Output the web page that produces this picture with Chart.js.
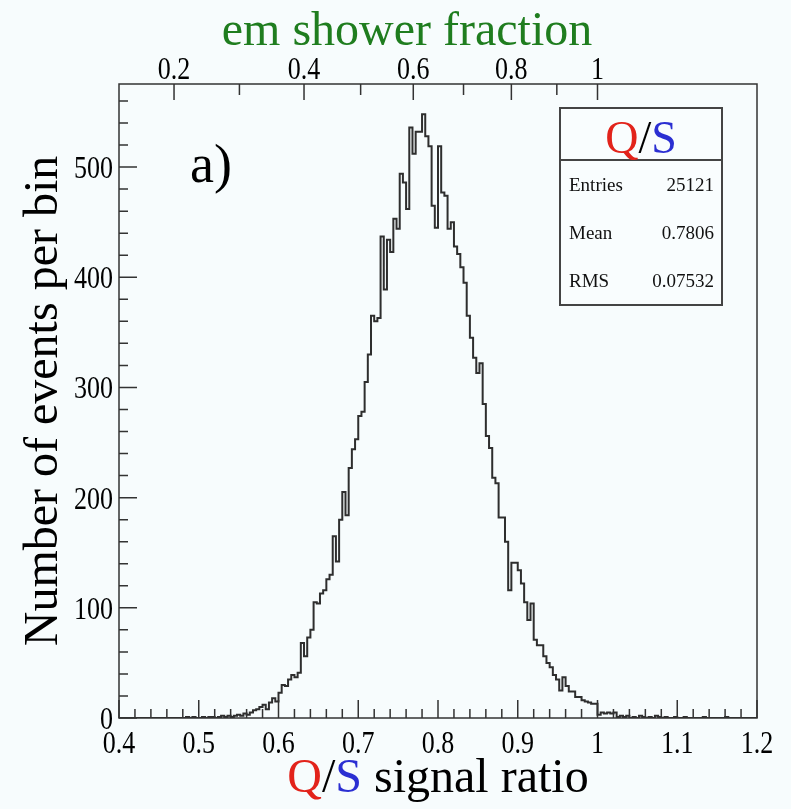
<!DOCTYPE html>
<html lang="en">
<head>
    <meta charset="UTF-8">
    <title>Q/S signal ratio</title>
    <script src="https://cdn.jsdelivr.net/npm/chart.js@4.4.1/dist/chart.umd.min.js"></script>
    <style>
        html, body {
            margin: 0;
            padding: 0;
            background: #f7fcfd;
        }
        .wrap {
            width: 791px;
            height: 809px;
        }
    </style>
</head>
<body>
    <div class="wrap"><canvas id="qsChart"></canvas></div>

    <script>
        // histogram of Q/S, 200 bins from 0.4 to 1.2
        const binLow = 0.4;
        const binWidth = 0.004;
        const counts = [
            0, 0, 0, 0, 0, 0, 0, 0, 0, 0,
            0, 0, 0, 0, 0, 0, 0, 0, 0, 0,
            0, 1, 0, 1, 0, 0, 1, 0, 1, 1,
            0, 1, 2, 1, 2, 1, 2, 3, 2, 4,
            3, 5, 7, 8, 10, 12, 8, 14, 18, 15,
            23, 30, 29, 35, 39, 37, 41, 68, 56, 73,
            80, 105, 104, 113, 116, 126, 130, 165, 142, 180,
            205, 184, 227, 244, 253, 274, 278, 305, 330, 365,
            360, 363, 437, 389, 434, 423, 453, 444, 494, 486,
            462, 536, 512, 532, 532, 548, 528, 519, 465, 445,
            519, 477, 474, 444, 450, 428, 421, 409, 395, 365,
            345, 327, 313, 322, 285, 256, 245, 218, 213, 182,
            182, 160, 116, 141, 141, 134, 122, 105, 89, 104,
            71, 66, 66, 56, 50, 46, 39, 35, 25, 37,
            29, 24, 24, 19, 19, 16, 15, 14, 13, 13,
            3, 5, 4, 5, 4, 5, 1, 2, 1, 2,
            0, 1, 0, 2, 1, 0, 1, 0, 2, 1,
            0, 1, 0, 0, 1, 0, 0, 1, 0, 0,
            0, 0, 0, 1, 0, 0, 0, 0, 0, 0,
            1, 0, 0, 0, 0, 0, 0, 0, 0, 0
        ];
        const yMax = 575.4;   // ROOT: 1.05 * highest bin

        // top axis: em shower fraction, placed on the Q/S scale
        const emTickPos = [0.469, 0.632, 0.769, 0.892, 1.0];
        const emTickLabels = ['0.2', '0.4', '0.6', '0.8', '1'];
        const emMinorPos = [0.551, 0.703, 0.832, 0.949];

        const statNames = ['Entries', 'Mean', 'RMS'];
        const statValues = ['25121', '0.7806', '0.07532'];

        const serif = '"Liberation Serif", "Times New Roman", serif';
        const RED = '#e2231b';
        const BLUE = '#2b2fd2';
        const GREEN = '#1f7d1f';
        const LABEL_FONT = '26px ' + serif;
        const LABEL_STRETCH = 1.25;   // tick numbers look tall and narrow

        // bin low edges, plus one point to close the last bin
        const histPoints = counts.map((c, i) => ({ x: binLow + i * binWidth, y: c }));
        histPoints.push({ x: binLow + counts.length * binWidth, y: counts[counts.length - 1] });

        function fmt(v) {
            return String(Math.round(v * 10) / 10);
        }

        // draws coloured pieces of text one after another
        function drawParts(ctx, parts, x, y, align) {
            let total = 0;
            parts.forEach(p => total += ctx.measureText(p[0]).width);
            let cx = align === 'center' ? x - total / 2 : x;
            ctx.textAlign = 'left';
            parts.forEach(p => {
                ctx.fillStyle = p[1];
                ctx.fillText(p[0], cx, y);
                cx += ctx.measureText(p[0]).width;
            });
        }

        function tallText(ctx, text, x, y, align) {
            ctx.save();
            ctx.translate(x, y);
            ctx.scale(1, LABEL_STRETCH);
            ctx.font = LABEL_FONT;
            ctx.fillStyle = '#000';
            ctx.textAlign = align;
            ctx.textBaseline = 'alphabetic';
            ctx.fillText(text, 0, 0);
            ctx.restore();
        }

        const rootDecor = {
            id: 'rootDecor',
            beforeDraw(chart) {
                const ctx = chart.ctx;
                ctx.save();
                ctx.fillStyle = '#f7fcfd';
                ctx.fillRect(0, 0, chart.width, chart.height);
                ctx.restore();
            },
            afterDraw(chart) {
                const ctx = chart.ctx;
                const a = chart.chartArea;
                const sx = chart.scales.x, sy = chart.scales.y, sx2 = chart.scales.x2;
                ctx.save();
                ctx.strokeStyle = '#333';
                ctx.lineWidth = 1.5;

                // ticks, ROOT style (inside the frame)
                ctx.beginPath();
                for (let v = 0.4; v <= 1.2001; v += 0.02) {
                    const px = sx.getPixelForValue(v);
                    const major = Math.abs(v * 10 - Math.round(v * 10)) < 0.01;
                    ctx.moveTo(px, a.bottom);
                    ctx.lineTo(px, a.bottom - (major ? 18 : 9));
                }
                for (let v = 0; v <= sy.max; v += 20) {
                    const py = sy.getPixelForValue(v);
                    ctx.moveTo(a.left, py);
                    ctx.lineTo(a.left + (v % 100 === 0 ? 18 : 9), py);
                }
                emTickPos.forEach(v => {
                    const px = sx2.getPixelForValue(v);
                    ctx.moveTo(px, a.top);
                    ctx.lineTo(px, a.top + 16);
                });
                emMinorPos.forEach(v => {
                    const px = sx2.getPixelForValue(v);
                    ctx.moveTo(px, a.top);
                    ctx.lineTo(px, a.top + 11);
                });
                ctx.stroke();

                // frame
                ctx.strokeRect(a.left, a.top, a.right - a.left, a.bottom - a.top);

                // tick labels from the scales' own ticks
                sx.ticks.forEach(t => tallText(ctx, fmt(t.value), sx.getPixelForValue(t.value), a.bottom + 35, 'center'));
                sy.ticks.forEach(t => tallText(ctx, String(t.value), a.left - 6, sy.getPixelForValue(t.value) + 11, 'right'));
                sx2.ticks.forEach((t, i) => tallText(ctx, emTickLabels[i], sx2.getPixelForValue(t.value), a.top - 5, 'center'));

                // top axis title
                ctx.font = '48px ' + serif;
                ctx.textBaseline = 'alphabetic';
                ctx.textAlign = 'center';
                ctx.fillStyle = GREEN;
                ctx.fillText('em shower fraction', 407, 45);

                // x axis title
                drawParts(ctx, [['Q', RED], ['/', '#000'], ['S', BLUE], [' signal ratio', '#000']],
                    (a.left + a.right) / 2, 792, 'center');

                // panel label
                ctx.font = '54px ' + serif;
                ctx.fillStyle = '#000';
                ctx.textAlign = 'left';
                ctx.fillText('a)', 190, 182);

                // stats box
                const bx = 560, by = 108, bw = 162, bh = 197;
                ctx.fillStyle = '#f9fdfe';
                ctx.fillRect(bx, by, bw, bh);
                ctx.lineWidth = 2;
                ctx.strokeStyle = '#444';
                ctx.strokeRect(bx, by, bw, bh);
                ctx.beginPath();
                ctx.moveTo(bx, by + 52);
                ctx.lineTo(bx + bw, by + 52);
                ctx.stroke();
                ctx.font = '46px ' + serif;
                drawParts(ctx, [['Q', RED], ['/', '#000'], ['S', BLUE]], bx + bw / 2, by + 45, 'center');
                ctx.font = '19px ' + serif;
                ctx.fillStyle = '#111';
                statNames.forEach((name, i) => {
                    const ty = by + 83 + i * 48;
                    ctx.textAlign = 'left';
                    ctx.fillText(name, bx + 9, ty);
                    ctx.textAlign = 'right';
                    ctx.fillText(statValues[i], bx + bw - 8, ty);
                });
                ctx.restore();
            }
        };

        new Chart(document.getElementById('qsChart').getContext('2d'), {
            type: 'line',
            data: {
                datasets: [{
                    label: 'Q/S',
                    data: histPoints,
                    stepped: true,
                    borderColor: '#2e2e2e',
                    borderWidth: 2,
                    pointRadius: 0,
                    fill: false,
                    xAxisID: 'x',
                    yAxisID: 'y'
                }]
            },
            options: {
                animation: false,
                responsive: true,
                maintainAspectRatio: false,
                layout: { padding: { left: 0, right: 34, top: 0, bottom: 0 } },
                plugins: {
                    legend: { display: false },
                    tooltip: { enabled: false }
                },
                scales: {
                    x: {
                        type: 'linear',
                        position: 'bottom',
                        min: 0.4,
                        max: 1.2,
                        grid: { display: false, drawTicks: false },
                        border: { display: false },
                        ticks: { display: false, stepSize: 0.1 },
                        afterFit: s => { s.height = 91; }
                    },
                    x2: {
                        type: 'linear',
                        position: 'top',
                        min: 0.4,
                        max: 1.2,
                        grid: { display: false, drawTicks: false },
                        border: { display: false },
                        afterBuildTicks: s => { s.ticks = emTickPos.map(v => ({ value: v })); },
                        ticks: { display: false },
                        afterFit: s => { s.height = 84; }
                    },
                    y: {
                        min: 0,
                        max: yMax,
                        grid: { display: false, drawTicks: false },
                        border: { display: false },
                        ticks: { display: false, stepSize: 100, includeBounds: false },
                        title: {
                            display: true,
                            text: 'Number of events per bin',
                            color: '#000',
                            font: { family: serif, size: 48 },
                            padding: { top: 16, bottom: 0 }
                        },
                        afterFit: s => { s.width = 119; }
                    }
                }
            },
            plugins: [rootDecor]
        });
    </script>
</body>
</html>
